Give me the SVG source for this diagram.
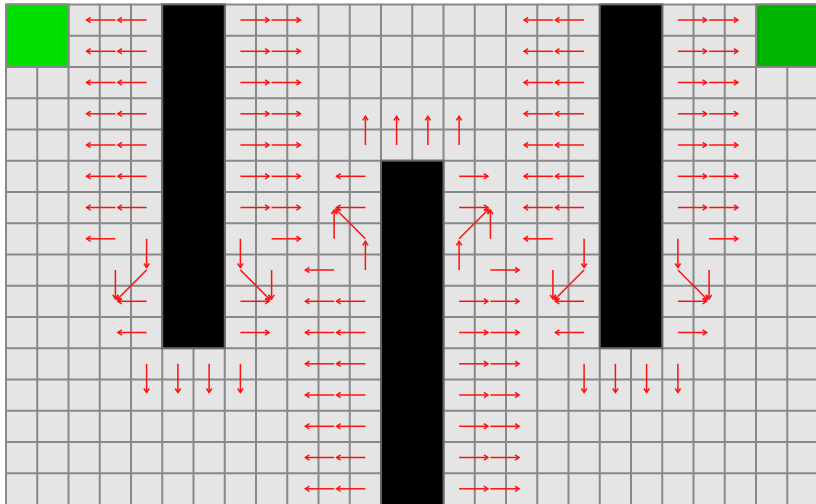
<svg xmlns="http://www.w3.org/2000/svg" width="816" height="504" viewBox="0 0 816 504">
<defs>
<style>
.grid{stroke:#888;stroke-width:2;fill:none}
.blk{fill:#000;stroke:#666;stroke-width:2}
.a{stroke:#ff1010;stroke-width:1.5;fill:none;marker-end:url(#ah)}
</style>
<marker id="ah" markerUnits="userSpaceOnUse" markerWidth="12" markerHeight="12" viewBox="-6 -6 12 12" refX="0" refY="0" orient="auto" overflow="visible">
<path d="M-4,-2.7 L0,0 L-4,2.7" fill="none" stroke="#ff1010" stroke-width="1.5"/>
</marker>
</defs>
<rect width="816" height="504" fill="#fff"/>
<g id="grid">
<rect x="6" y="4.4" width="812.5" height="500" fill="#e5e5e5"/>
<path class="grid" d="M6,4.4V504M37.25,4.4V504M68.5,4.4V504M99.75,4.4V504M131,4.4V504M162.25,4.4V504M193.5,4.4V504M224.75,4.4V504M256,4.4V504M287.25,4.4V504M318.5,4.4V504M349.75,4.4V504M381,4.4V504M412.25,4.4V504M443.5,4.4V504M474.75,4.4V504M506,4.4V504M537.25,4.4V504M568.5,4.4V504M599.75,4.4V504M631,4.4V504M662.25,4.4V504M693.5,4.4V504M724.75,4.4V504M756,4.4V504M787.25,4.4V504
M6,4.4H816M6,35.65H816M6,66.9H816M6,98.15H816M6,129.4H816M6,160.65H816M6,191.9H816M6,223.15H816M6,254.4H816M6,285.65H816M6,316.9H816M6,348.15H816M6,379.4H816M6,410.65H816M6,441.9H816M6,473.15H816"/>
</g>
<g id="start">
<rect x="6" y="4.4" width="62.5" height="62.5" fill="#00e000" stroke="#888" stroke-width="2"/>
</g>
<g id="goal">
<rect x="756" y="4.4" width="62.5" height="62.5" fill="#00b300" stroke="#888" stroke-width="2"/>
</g>
<g id="wall1"><rect class="blk" x="162.25" y="4.4" width="62.5" height="343.75"/></g>
<g id="wall2"><rect class="blk" x="599.75" y="4.4" width="62.5" height="343.75"/></g>
<g id="wall3"><rect class="blk" x="381" y="160.65" width="62.5" height="345"/></g>
<g id="connectors">
<!-- left of wall1 -->
<path class="a" d="M146.6,20H117.9"/><path class="a" d="M115.4,20H86.6"/>
<path class="a" d="M146.6,51.3H117.9"/><path class="a" d="M115.4,51.3H86.6"/>
<path class="a" d="M146.6,82.5H117.9"/><path class="a" d="M115.4,82.5H86.6"/>
<path class="a" d="M146.6,113.8H117.9"/><path class="a" d="M115.4,113.8H86.6"/>
<path class="a" d="M146.6,145H117.9"/><path class="a" d="M115.4,145H86.6"/>
<path class="a" d="M146.6,176.3H117.9"/><path class="a" d="M115.4,176.3H86.6"/>
<path class="a" d="M146.6,207.5H117.9"/><path class="a" d="M115.4,207.5H86.6"/>
<path class="a" d="M115.4,238.8H86.6"/>
<path class="a" d="M146.6,238.8V267.5"/>
<path class="a" d="M115.4,270V298.8"/>
<path class="a" d="M146.6,270L117.2,299.5"/>
<path class="a" d="M146.6,301.3H117.9"/>
<path class="a" d="M146.6,332.5H117.9"/>
<path class="a" d="M146.6,363.8V392.5"/><path class="a" d="M177.9,363.8V392.5"/><path class="a" d="M209.1,363.8V392.5"/><path class="a" d="M240.4,363.8V392.5"/>
<!-- right of wall1 -->
<path class="a" d="M240.4,20H269.1"/><path class="a" d="M271.6,20H300.4"/>
<path class="a" d="M240.4,51.3H269.1"/><path class="a" d="M271.6,51.3H300.4"/>
<path class="a" d="M240.4,82.5H269.1"/><path class="a" d="M271.6,82.5H300.4"/>
<path class="a" d="M240.4,113.8H269.1"/><path class="a" d="M271.6,113.8H300.4"/>
<path class="a" d="M240.4,145H269.1"/><path class="a" d="M271.6,145H300.4"/>
<path class="a" d="M240.4,176.3H269.1"/><path class="a" d="M271.6,176.3H300.4"/>
<path class="a" d="M240.4,207.5H269.1"/><path class="a" d="M271.6,207.5H300.4"/>
<path class="a" d="M271.6,238.8H300.4"/>
<path class="a" d="M240.4,238.8V267.5"/>
<path class="a" d="M271.6,270V298.8"/>
<path class="a" d="M240.4,270L269.8,299.5"/>
<path class="a" d="M240.4,301.3H269.1"/>
<path class="a" d="M240.4,332.5H269.1"/>
<!-- middle -->
<path class="a" d="M365.4,145V116.3"/><path class="a" d="M396.6,145V116.3"/><path class="a" d="M427.9,145V116.3"/><path class="a" d="M459.1,145V116.3"/>
<path class="a" d="M365.4,176.3H336.6"/><path class="a" d="M459.1,176.3H487.9"/>
<path class="a" d="M365.4,207.5H336.6"/><path class="a" d="M459.1,207.5H487.9"/>
<path class="a" d="M334.1,238.8V210"/><path class="a" d="M365.4,238.8L335.9,209.3"/>
<path class="a" d="M365.4,270V241.3"/><path class="a" d="M334.1,270H305.4"/>
<path class="a" d="M490.4,238.8V210"/><path class="a" d="M459.1,238.8L488.6,209.3"/>
<path class="a" d="M459.1,270V241.3"/><path class="a" d="M490.4,270H519.1"/>
<path class="a" d="M365.4,301.3H336.6"/><path class="a" d="M334.1,301.3H305.4"/><path class="a" d="M459.1,301.3H487.9"/><path class="a" d="M490.4,301.3H519.1"/>
<path class="a" d="M365.4,332.5H336.6"/><path class="a" d="M334.1,332.5H305.4"/><path class="a" d="M459.1,332.5H487.9"/><path class="a" d="M490.4,332.5H519.1"/>
<path class="a" d="M365.4,363.8H336.6"/><path class="a" d="M334.1,363.8H305.4"/><path class="a" d="M459.1,363.8H487.9"/><path class="a" d="M490.4,363.8H519.1"/>
<path class="a" d="M365.4,395H336.6"/><path class="a" d="M334.1,395H305.4"/><path class="a" d="M459.1,395H487.9"/><path class="a" d="M490.4,395H519.1"/>
<path class="a" d="M365.4,426.3H336.6"/><path class="a" d="M334.1,426.3H305.4"/><path class="a" d="M459.1,426.3H487.9"/><path class="a" d="M490.4,426.3H519.1"/>
<path class="a" d="M365.4,457.5H336.6"/><path class="a" d="M334.1,457.5H305.4"/><path class="a" d="M459.1,457.5H487.9"/><path class="a" d="M490.4,457.5H519.1"/>
<path class="a" d="M365.4,488.8H336.6"/><path class="a" d="M334.1,488.8H305.4"/><path class="a" d="M459.1,488.8H487.9"/><path class="a" d="M490.4,488.8H519.1"/>
<!-- left of wall2 -->
<path class="a" d="M584.1,20H555.4"/><path class="a" d="M552.9,20H524.1"/>
<path class="a" d="M584.1,51.3H555.4"/><path class="a" d="M552.9,51.3H524.1"/>
<path class="a" d="M584.1,82.5H555.4"/><path class="a" d="M552.9,82.5H524.1"/>
<path class="a" d="M584.1,113.8H555.4"/><path class="a" d="M552.9,113.8H524.1"/>
<path class="a" d="M584.1,145H555.4"/><path class="a" d="M552.9,145H524.1"/>
<path class="a" d="M584.1,176.3H555.4"/><path class="a" d="M552.9,176.3H524.1"/>
<path class="a" d="M584.1,207.5H555.4"/><path class="a" d="M552.9,207.5H524.1"/>
<path class="a" d="M552.9,238.8H524.1"/>
<path class="a" d="M584.1,238.8V267.5"/>
<path class="a" d="M552.9,270V298.8"/>
<path class="a" d="M584.1,270L554.7,299.5"/>
<path class="a" d="M584.1,301.3H555.4"/>
<path class="a" d="M584.1,332.5H555.4"/>
<path class="a" d="M584.1,363.8V392.5"/><path class="a" d="M615.4,363.8V392.5"/><path class="a" d="M646.6,363.8V392.5"/><path class="a" d="M677.9,363.8V392.5"/>
<!-- right of wall2 -->
<path class="a" d="M677.9,20H706.6"/><path class="a" d="M709.1,20H737.9"/>
<path class="a" d="M677.9,51.3H706.6"/><path class="a" d="M709.1,51.3H737.9"/>
<path class="a" d="M677.9,82.5H706.6"/><path class="a" d="M709.1,82.5H737.9"/>
<path class="a" d="M677.9,113.8H706.6"/><path class="a" d="M709.1,113.8H737.9"/>
<path class="a" d="M677.9,145H706.6"/><path class="a" d="M709.1,145H737.9"/>
<path class="a" d="M677.9,176.3H706.6"/><path class="a" d="M709.1,176.3H737.9"/>
<path class="a" d="M677.9,207.5H706.6"/><path class="a" d="M709.1,207.5H737.9"/>
<path class="a" d="M709.1,238.8H737.9"/>
<path class="a" d="M677.9,238.8V267.5"/>
<path class="a" d="M709.1,270V298.8"/>
<path class="a" d="M677.9,270L707.3,299.5"/>
<path class="a" d="M677.9,301.3H706.6"/>
<path class="a" d="M677.9,332.5H706.6"/>
</g>
</svg>
